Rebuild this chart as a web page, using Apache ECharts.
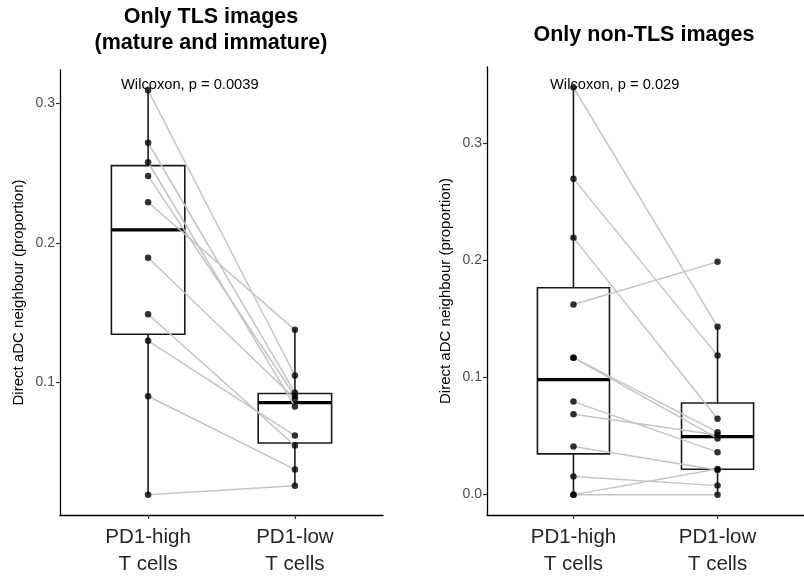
<!DOCTYPE html>
<html>
<head>
<meta charset="utf-8">
<script src="https://cdn.jsdelivr.net/npm/echarts@6/dist/echarts.min.js"></script>
<style>
  html, body { margin: 0; padding: 0; background: #fff; }
  #chart { width: 804px; height: 578px; }
</style>
</head>
<body>
<div id="chart"></div>
<script>
// Paired proportions of direct aDC neighbours, PD1-high vs PD1-low T cells.
// Index i in a "High" array is paired with index i in the matching "Low" array.
const groupLabels = ['PD1-high\nT cells', 'PD1-low\nT cells'];

// Panel 1: TLS images (mature and immature)
const tlsHigh = [0.3095, 0.2718, 0.2578, 0.2480, 0.2291, 0.1893, 0.1487, 0.1296, 0.0898, 0.0191];
const tlsLow  = [0.1047, 0.0924, 0.0825, 0.0900, 0.1375, 0.0880, 0.0545, 0.0616, 0.0373, 0.0256];

// Panel 2: non-TLS images
const nonHigh = [0.348, 0.270, 0.2196, 0.1625, 0.117, 0.117, 0.0795, 0.0687, 0.0412, 0.0156, 0, 0];
const nonLow  = [0.1435, 0.1188, 0.0648, 0.1989, 0.0534, 0.048, 0.0363, 0.051, 0.021, 0.0077, 0.022, 0];

const panelTitles = ['Only TLS images\n(mature and immature)', 'Only non-TLS images'];
const testLabels = ['Wilcoxon, p = 0.0039', 'Wilcoxon, p = 0.029'];
const yTicks1 = [0.1, 0.2, 0.3];
const yTicks2 = [0, 0.1, 0.2, 0.3];
const yTitle = 'Direct aDC neighbour (proportion)';

const FONT = '"Liberation Sans", Arial, Helvetica, sans-serif';

// Tukey box statistics (R type-7 quantiles, whiskers to 1.5 IQR)
function quantile(sorted, p) {
  const h = (sorted.length - 1) * p;
  const lo = Math.floor(h), hi = Math.ceil(h);
  return sorted[lo] + (h - lo) * (sorted[hi] - sorted[lo]);
}
function boxStats(values, x) {
  const s = values.slice().sort((a, b) => a - b);
  const q1 = quantile(s, 0.25), med = quantile(s, 0.5), q3 = quantile(s, 0.75);
  const iqr = q3 - q1;
  const inside = s.filter(v => v >= q1 - 1.5 * iqr && v <= q3 + 1.5 * iqr);
  return [x, q1, med, q3, inside[0], inside[inside.length - 1]];
}

// Data-range padding of 5% on the value axis
function padRange(arrs) {
  const all = [].concat(...arrs);
  const mn = Math.min(...all), mx = Math.max(...all);
  const e = (mx - mn) * 0.05;
  return [mn - e, mx + e];
}
const r1 = padRange([tlsHigh, tlsLow]);
const r2 = padRange([nonHigh, nonLow]);

function renderBox(params, api) {
  const x = api.value(0), q1 = api.value(1), med = api.value(2), q3 = api.value(3);
  const lo = api.value(4), hi = api.value(5);
  const hw = 0.25;
  const tl = api.coord([x - hw, q3]);
  const br = api.coord([x + hw, q1]);
  const mL = api.coord([x - hw, med]);
  const mR = api.coord([x + hw, med]);
  const cTop = api.coord([x, hi]);
  const cQ3 = api.coord([x, q3]);
  const cQ1 = api.coord([x, q1]);
  const cBot = api.coord([x, lo]);
  const stroke = { stroke: '#1a1a1a', lineWidth: 1.6, fill: null };
  return {
    type: 'group',
    children: [
      { type: 'line', shape: { x1: cTop[0], y1: cTop[1], x2: cQ3[0], y2: cQ3[1] }, style: stroke },
      { type: 'line', shape: { x1: cQ1[0], y1: cQ1[1], x2: cBot[0], y2: cBot[1] }, style: stroke },
      { type: 'rect', shape: { x: tl[0], y: tl[1], width: br[0] - tl[0], height: br[1] - tl[1] },
        style: { stroke: '#1a1a1a', lineWidth: 1.6, fill: '#ffffff' } },
      { type: 'line', shape: { x1: mL[0], y1: mL[1], x2: mR[0], y2: mR[1] },
        style: { stroke: '#000', lineWidth: 3.2 } }
    ]
  };
}

function renderPair(params, api) {
  const a = api.coord([1, api.value(0)]);
  const b = api.coord([2, api.value(1)]);
  return {
    type: 'line',
    shape: { x1: a[0], y1: a[1], x2: b[0], y2: b[1] },
    style: { stroke: '#c4c4c4', lineWidth: 1.5 }
  };
}

function pointData(high, low) {
  return high.map(v => [1, v]).concat(low.map(v => [2, v]));
}

function xAxisFor(gridIndex) {
  return {
    gridIndex, type: 'value', min: 0.4, max: 2.6,
    splitLine: { show: false },
    axisLine: { show: true, onZero: false, lineStyle: { color: '#000', width: 1.3 } },
    axisTick: { show: true, customValues: [1, 2], length: 4, lineStyle: { color: '#333', width: 1.2 } },
    axisLabel: {
      customValues: [1, 2],
      formatter: v => groupLabels[Math.round(v) - 1],
      color: '#262626', fontSize: 20.5, fontFamily: FONT, lineHeight: 27, margin: 9
    }
  };
}
function yAxisFor(gridIndex, range, ticks) {
  return {
    gridIndex, type: 'value', min: range[0], max: range[1],
    splitLine: { show: false },
    axisLine: { show: true, onZero: false, lineStyle: { color: '#000', width: 1.3 } },
    axisTick: { show: true, customValues: ticks, length: 4, lineStyle: { color: '#333', width: 1.2 } },
    axisLabel: {
      customValues: ticks, formatter: v => v.toFixed(1),
      color: '#4d4d4d', fontSize: 14, fontFamily: FONT, margin: 5
    },
    name: yTitle, nameLocation: 'middle', nameRotate: 90, nameGap: 34,
    nameTextStyle: { color: '#000', fontSize: 15, fontFamily: FONT }
  };
}

const chart = echarts.init(document.getElementById('chart'), null, { renderer: 'canvas' });
chart.setOption({
  backgroundColor: '#ffffff',
  animation: false,
  grid: [
    { left: 60, top: 70, width: 323, height: 446 },
    { left: 487, top: 67, width: 326, height: 452 }
  ],
  xAxis: [xAxisFor(0), xAxisFor(1)],
  yAxis: [yAxisFor(0, r1, yTicks1), yAxisFor(1, r2, yTicks2)],
  graphic: [
    { type: 'text', x: 211, y: 30, style: { text: panelTitles[0], font: 'bold 21.5px ' + FONT,
      align: 'center', verticalAlign: 'middle', lineHeight: 26, fill: '#000' } },
    { type: 'text', x: 644, y: 35, style: { text: panelTitles[1], font: 'bold 21.5px ' + FONT,
      align: 'center', verticalAlign: 'middle', fill: '#000' } },
    { type: 'text', x: 121, y: 85, style: { text: testLabels[0], font: '14.7px ' + FONT,
      align: 'left', verticalAlign: 'middle', fill: '#000' }, z: 10 },
    { type: 'text', x: 550, y: 85, style: { text: testLabels[1], font: '14.7px ' + FONT,
      align: 'left', verticalAlign: 'middle', fill: '#000' }, z: 10 }
  ],
  series: [
    { type: 'custom', xAxisIndex: 0, yAxisIndex: 0, z: 1, renderItem: renderBox,
      data: [boxStats(tlsHigh, 1), boxStats(tlsLow, 2)] },
    { type: 'custom', xAxisIndex: 1, yAxisIndex: 1, z: 1, renderItem: renderBox,
      data: [boxStats(nonHigh, 1), boxStats(nonLow, 2)] },
    { type: 'custom', xAxisIndex: 0, yAxisIndex: 0, z: 2, renderItem: renderPair,
      data: tlsHigh.map((v, i) => [v, tlsLow[i]]) },
    { type: 'custom', xAxisIndex: 1, yAxisIndex: 1, z: 2, renderItem: renderPair,
      data: nonHigh.map((v, i) => [v, nonLow[i]]) },
    { type: 'scatter', xAxisIndex: 0, yAxisIndex: 0, z: 3, symbolSize: 6.5,
      itemStyle: { color: '#000' }, data: pointData(tlsHigh, tlsLow) },
    { type: 'scatter', xAxisIndex: 1, yAxisIndex: 1, z: 3, symbolSize: 6.5,
      itemStyle: { color: '#000' }, data: pointData(nonHigh, nonLow) }
  ]
});
</script>
</body>
</html>
